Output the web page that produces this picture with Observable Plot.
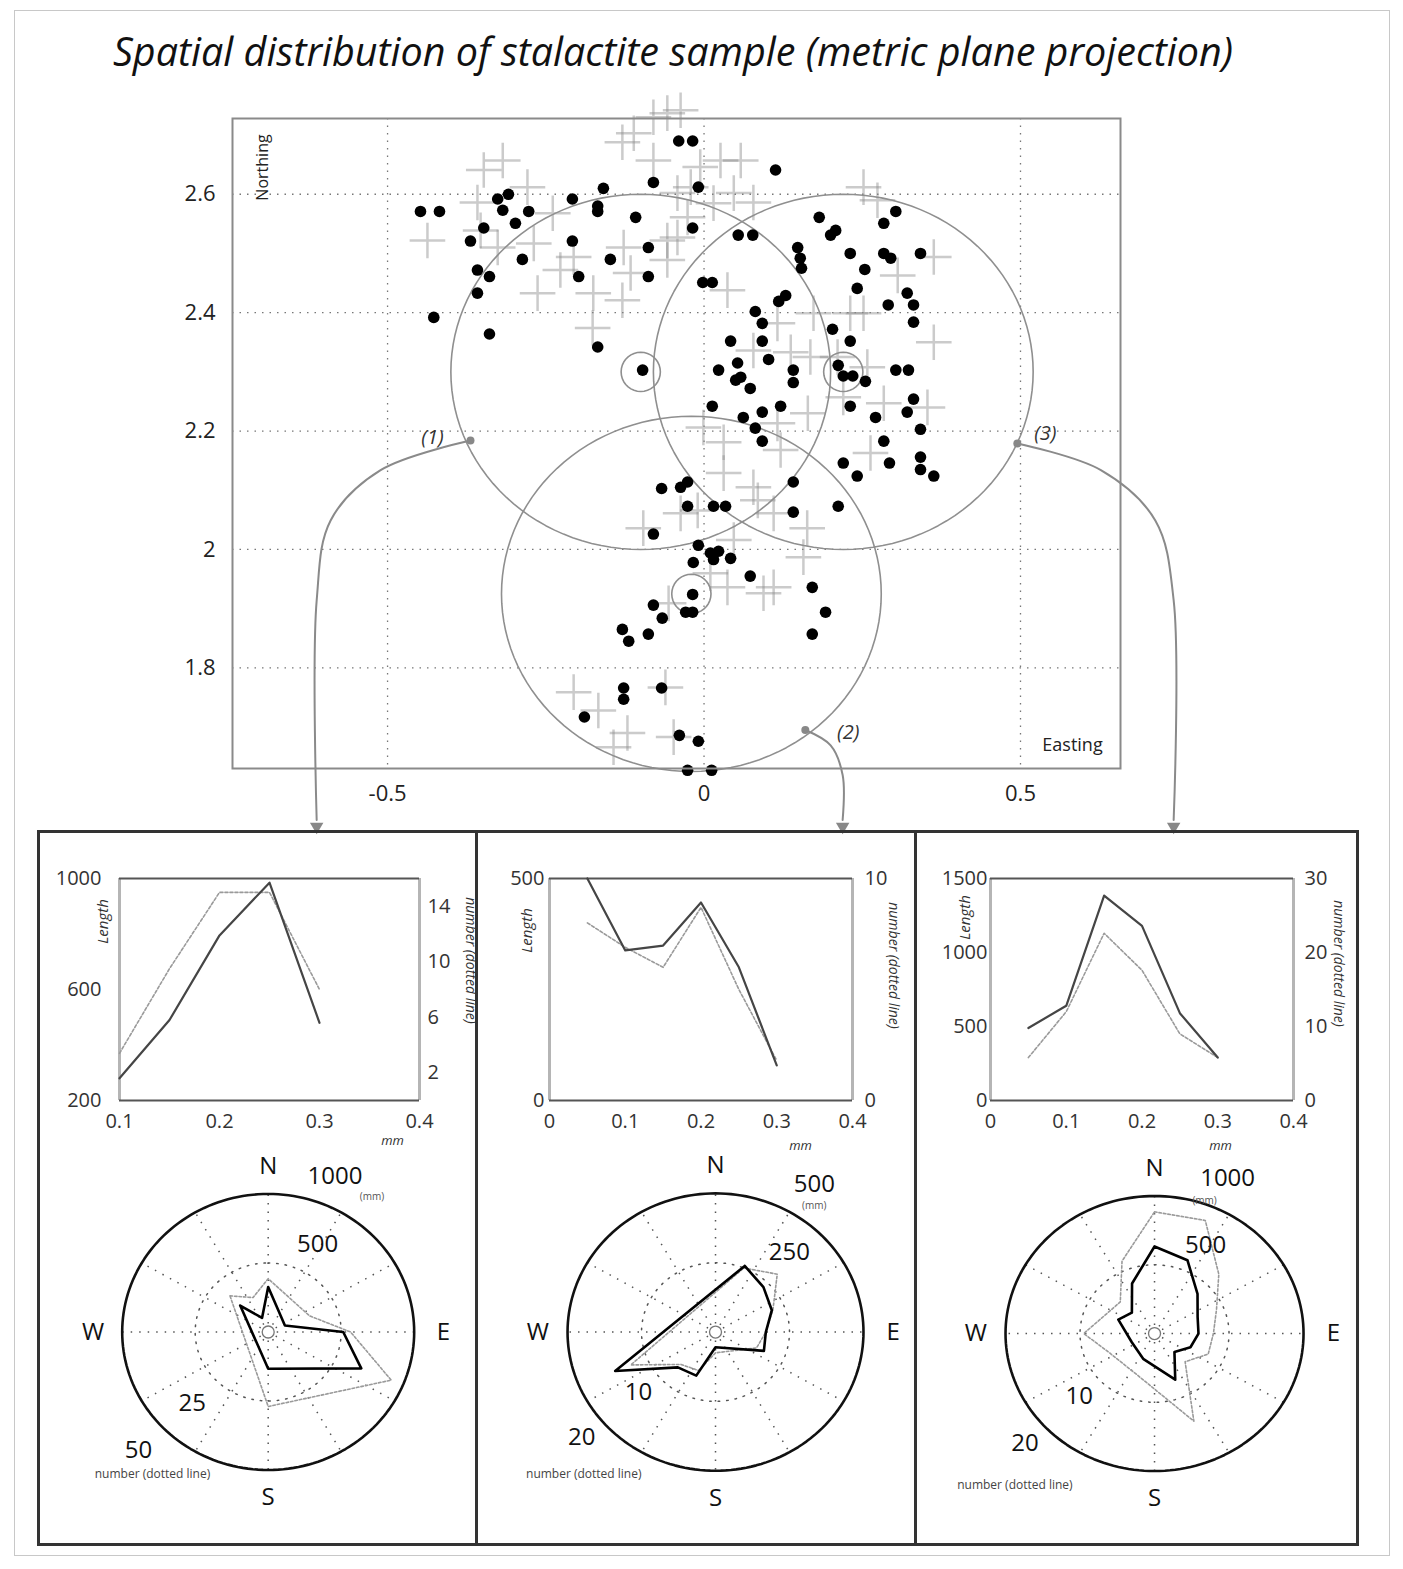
<!DOCTYPE html>
<html>
<head>
<meta charset="utf-8">
<script src="https://cdn.jsdelivr.net/npm/d3@7"></script>
<script src="https://cdn.jsdelivr.net/npm/@observablehq/plot@0.6"></script>
<style>
  body { margin: 0; background: #fff; }
  #page { position: relative; width: 1403px; height: 1569px; overflow: hidden; background: #fff; }
  #page svg { overflow: visible; }
</style>
</head>
<body>
<div id="page"></div>
<script>
// ---------------- DATA ----------------
const titleText = "Spatial distribution of stalactite sample (metric plane projection)";

// stalactite positions (black dots): [Easting, Northing]
const stalactiteDots = [
  [-0.448,2.571],[-0.418,2.571],[-0.326,2.592],[-0.309,2.600],[-0.318,2.573],[-0.277,2.571],[-0.348,2.543],[-0.298,2.551],
  [-0.369,2.521],[-0.358,2.472],[-0.339,2.461],[-0.358,2.433],[-0.427,2.392],[-0.339,2.364],[-0.287,2.490],[-0.208,2.592],
  [-0.168,2.580],[-0.168,2.571],[-0.159,2.610],[-0.208,2.521],[-0.198,2.461],[-0.148,2.490],[-0.108,2.561],[-0.088,2.510],
  [-0.088,2.461],[-0.168,2.342],[-0.097,2.303],[-0.080,2.620],[-0.040,2.690],[-0.018,2.690],[-0.009,2.612],[-0.018,2.543],
  [0.054,2.531],[0.077,2.531],[-0.002,2.451],[0.013,2.451],[0.113,2.641],
  [0.182,2.561],[0.303,2.571],[0.284,2.551],[0.208,2.539],[0.200,2.531],[0.148,2.510],[0.152,2.492],[0.154,2.475],
  [0.231,2.500],[0.284,2.500],[0.295,2.492],[0.342,2.500],[0.254,2.473],[0.242,2.441],[0.129,2.429],[0.118,2.419],
  [0.321,2.433],[0.331,2.413],[0.291,2.413],[0.331,2.384],[0.081,2.402],[0.092,2.382],[0.203,2.372],[0.042,2.352],
  [0.092,2.352],[0.231,2.352],[0.102,2.321],[0.053,2.315],[0.023,2.303],[0.058,2.291],[0.050,2.286],[0.073,2.272],
  [0.141,2.303],[0.141,2.282],[0.212,2.311],[0.220,2.293],[0.235,2.293],[0.255,2.284],[0.303,2.303],[0.323,2.303],
  [0.331,2.254],[0.321,2.232],[0.013,2.242],[0.062,2.223],[0.092,2.232],[0.121,2.242],[0.231,2.242],[0.271,2.223],
  [0.342,2.203],[0.081,2.205],[0.092,2.183],[0.284,2.183],[0.220,2.146],[0.242,2.124],[0.293,2.146],[0.342,2.156],
  [0.342,2.135],[0.363,2.124],[0.141,2.114],
  [-0.067,2.103],[-0.037,2.105],[-0.026,2.114],[0.212,2.073],[0.141,2.063],[-0.026,2.073],[0.015,2.073],[0.034,2.073],
  [-0.080,2.026],[-0.009,2.007],[0.010,1.994],[0.023,1.997],[0.042,1.985],[-0.017,1.978],[0.015,1.983],[0.073,1.955],
  [0.171,1.936],[0.192,1.894],[0.171,1.857],[-0.018,1.924],[-0.080,1.906],[-0.066,1.884],[-0.029,1.894],[-0.018,1.894],
  [-0.129,1.865],[-0.119,1.845],[-0.088,1.857],[-0.127,1.766],[-0.127,1.747],[-0.067,1.766],[-0.189,1.717],[-0.039,1.686],
  [-0.009,1.676],[-0.026,1.627],[0.012,1.627]
];

// second sample (grey crosses): [Easting, Northing]
const crossSample = [
  [-0.080,2.730],[-0.058,2.737],[-0.037,2.742],[-0.111,2.703],[-0.129,2.688],[-0.080,2.657],[-0.006,2.646],[0.026,2.657],
  [0.058,2.657],[-0.021,2.612],[-0.042,2.602],[0.015,2.585],[-0.026,2.561],[-0.042,2.527],[0.047,2.602],[0.078,2.586],
  [-0.318,2.657],[-0.348,2.641],[-0.279,2.612],[-0.358,2.586],[-0.437,2.522],[-0.353,2.539],[-0.239,2.568],[-0.269,2.517],
  [-0.326,2.510],[-0.206,2.494],[-0.127,2.510],[-0.058,2.522],[-0.263,2.433],[-0.175,2.433],[-0.176,2.374],[-0.129,2.421],
  [-0.116,2.467],[-0.058,2.489],[-0.227,2.472],[0.037,2.438],
  [0.252,2.612],[0.274,2.590],[0.363,2.494],[0.306,2.463],[0.363,2.350],[0.231,2.399],[0.252,2.399],[0.173,2.399],
  [0.116,2.382],[0.078,2.336],[0.137,2.333],[0.168,2.325],[0.211,2.325],[0.258,2.308],[0.353,2.240],[0.284,2.247],
  [0.220,2.257],[0.164,2.230],[0.116,2.213],[-0.001,2.206],[0.031,2.181],[0.121,2.168],[0.263,2.163],[0.031,2.129],
  [0.078,2.105],
  [-0.096,2.036],[-0.037,2.061],[-0.010,2.066],[0.085,2.083],[0.110,2.061],[0.163,2.036],[0.157,1.987],[0.047,2.016],
  [0.037,1.936],[0.094,1.926],[0.110,1.936],[0.010,1.960],[-0.056,1.909],[-0.206,1.759],[-0.167,1.728],[-0.121,1.690],
  [-0.143,1.666],[-0.061,1.767],[-0.048,1.683]
];

// sampling circles
const circleLabels   = ["(1)", "(2)", "(3)"];
const circleEasting  = [-0.10, -0.02, 0.22];
const circleNorthing = [2.30, 1.925, 2.30];
const circleRadius   = 0.3;
const centreMarkRadius = 0.031;
// points on each circle where the arrows leave
const markerEasting  = [-0.369, 0.160, 0.495];
const markerNorthing = [2.184, 1.695, 2.179];
// arrow paths (Easting / Northing), one per circle
const arrowEasting  = [[-0.369,-0.511,-0.590,-0.612,-0.612], [0.160,0.200,0.219,0.219], [0.495,0.627,0.713,0.742,0.742]];
const arrowNorthing = [[2.184,2.134,2.049,1.914,1.543],      [1.695,1.669,1.619,1.543], [2.179,2.134,2.049,1.914,1.543]];
const arrowTipNorthing = 1.532;

const xTicksMain = [-0.5, 0, 0.5];
const yTicksMain = [1.8, 2, 2.2, 2.4, 2.6];

// size distributions (mm) : Length (solid) and number (dotted)
const size1 = [0.1, 0.15, 0.2, 0.25, 0.3];
const length1 = [280, 490, 795, 985, 480];
const number1 = [3.4, 9.5, 15, 15, 8];
const size2 = [0.05, 0.1, 0.15, 0.2, 0.25, 0.3];
const length2 = [500, 338, 349, 446, 300, 79];
const number2 = [8, 6.9, 6, 8.7, 5, 1.8];
const size3 = [0.05, 0.1, 0.15, 0.2, 0.25, 0.3];
const length3 = [490, 640, 1385, 1180, 590, 290];
const number3 = [5.8, 12, 22.6, 17.6, 9, 5.8];

// orientation roses (azimuth in degrees from N)
const rose1LenAz = [315, 337.5, 0, 67.5, 90, 112.5, 180];
const rose1Len   = [271, 110, 326, 124, 514, 690, 266];
const rose1NumAz = [315, 337.5, 0, 67.5, 90, 112.5, 180];
const rose1Num   = [18.5, 13.5, 19.3, 15.3, 28.2, 45.6, 27];
const rose2LenAz = [22.5, 45, 67.5, 90, 112.5, 180, 202.5, 225, 247.5];
const rose2Len   = [258, 229, 206, 170, 177, 55, 170, 180, 367];
const rose2NumAz = [22.5, 45, 67.5, 90, 112.5, 180, 202.5, 225, 247.5];
const rose2Num   = [10, 11.8, 8.4, 6.8, 6, 3, 6, 6.6, 12.4];
const rose3LenAz = [0, 22.5, 45, 67.5, 90, 112.5, 135, 157.5, 202.5, 247.5, 292.5, 315, 337.5];
const rose3Len   = [633, 577, 408, 313, 295, 261, 189, 363, 199, 165, 263, 215, 394];
const rose3NumAz = [0, 22.5, 45, 67.5, 90, 112.5, 135, 157.5, 202.5, 247.5, 270, 315, 337.5];
const rose3Num   = [17.7, 17.8, 12.2, 9, 7.9, 7.8, 5.8, 13.8, 6.4, 6.8, 9.5, 6.5, 11.4];
const compass = ["N", "E", "S", "W"];
const compassAz = [0, 90, 180, 270];

// ---------------- LAYOUT HELPERS ----------------
const FONT = "'Open Sans', 'Liberation Sans', sans-serif";
const page = document.getElementById("page");
function put(node, left, top) {
  node.style.position = "absolute";
  node.style.left = left + "px";
  node.style.top = top + "px";
  page.appendChild(node);
  return node;
}
function box(left, top, w, h, css) {
  const d = document.createElement("div");
  d.style.cssText = `position:absolute;left:${left}px;top:${top}px;width:${w}px;height:${h}px;box-sizing:border-box;${css}`;
  page.appendChild(d);
  return d;
}
const mid = {textAnchor: "middle", lineAnchor: "middle"};

// outer frame + title
box(14, 10, 1376, 1546, "border:1px solid #c8c8c8;");
const title = document.createElement("div");
title.textContent = titleText;
title.style.cssText = `width:1346px;text-align:center;font-family:${FONT};font-style:italic;font-size:39.5px;line-height:48px;color:#111;white-space:nowrap;`;
put(title, 0, 27);

// ---------------- MAIN SCATTER ----------------
const circlePts = [];
circleEasting.forEach((cx, i) => {
  const cy = circleNorthing[i];
  d3.range(0, 361, 3).forEach(a => circlePts.push({id: "c" + i, x: cx + circleRadius * Math.cos(a * Math.PI / 180), y: cy + circleRadius * Math.sin(a * Math.PI / 180)}));
  d3.range(0, 361, 10).forEach(a => circlePts.push({id: "m" + i, x: cx + centreMarkRadius * Math.cos(a * Math.PI / 180), y: cy + centreMarkRadius * 1.07 * Math.sin(a * Math.PI / 180)}));
});
const arrowPts = [];
arrowEasting.forEach((xs, i) => xs.forEach((x, j) => arrowPts.push({id: i, x, y: arrowNorthing[i][j]})));
const arrowTips = arrowEasting.map(xs => ({x: xs[xs.length - 1], y: arrowTipNorthing}));
const markers = markerEasting.map((x, i) => ({x, y: markerNorthing[i], label: circleLabels[i]}));
const labelOffsets = [[-38, -3], [43, 3], [28, -10]];

const scatter = Plot.plot({
  width: 1403, height: 750,
  marginLeft: 232, marginRight: 283, marginTop: 28, marginBottom: 72,
  style: {background: "transparent", fontFamily: FONT, fontSize: "22px", color: "#222", overflow: "visible"},
  x: {domain: [-0.745, 0.658], label: null},
  y: {domain: [1.630, 2.728], label: null},
  marks: [
    Plot.gridX(xTicksMain, {stroke: "#777", strokeOpacity: 1, strokeDasharray: "1.5,6", strokeWidth: 1.3}),
    Plot.gridY(yTicksMain, {stroke: "#777", strokeOpacity: 1, strokeDasharray: "1.5,6", strokeWidth: 1.3}),
    Plot.dot(crossSample, {x: d => d[0], y: d => d[1], symbol: "plus", r: 11.5, stroke: "#8c8c8c", strokeOpacity: 0.45, strokeWidth: 2.5}),
    Plot.line(circlePts, {x: "x", y: "y", z: "id", stroke: "#8f8f8f", strokeWidth: 1.6}),
    Plot.dot(stalactiteDots, {x: d => d[0], y: d => d[1], r: 5.8, fill: "#000"}),
    Plot.frame({stroke: "#8a8a8a", strokeWidth: 2}),
    Plot.axisX(xTicksMain, {tickSize: 0, tickPadding: 17, tickFormat: d => String(d), label: null, fontSize: 22}),
    Plot.axisY(yTicksMain, {tickSize: 0, tickPadding: 17, tickFormat: d => String(d), label: null, fontSize: 22}),
    Plot.line(arrowPts, {x: "x", y: "y", z: "id", curve: "catmull-rom", stroke: "#8a8a8a", strokeWidth: 2}),
    Plot.dot(arrowTips, {x: "x", y: "y", symbol: "triangle", rotate: 180, r: 5, fill: "#888", stroke: "none"}),
    Plot.dot(markers, {x: "x", y: "y", r: 4, fill: "#888", stroke: "none"}),
    ...markers.map((m, i) => Plot.text([m], {x: "x", y: "y", text: "label", dx: labelOffsets[i][0], dy: labelOffsets[i][1], fontStyle: "italic", fontSize: 20, fill: "#333", ...mid})),
    Plot.text(["Northing"], {frameAnchor: "top-left", text: d => d, rotate: -90, dx: 30, dy: 49, fontSize: 16, fill: "#222", ...mid}),
    Plot.text(["Easting"], {frameAnchor: "bottom-right", text: d => d, dx: -48, dy: -23, fontSize: 18, fill: "#222", ...mid})
  ]
});
put(scatter, 0, 90);

// ---------------- PANELS ----------------
box(37, 830, 441, 716, "border:3px solid #333;");
box(475, 830, 442, 716, "border:3px solid #333;");
box(914, 830, 445, 716, "border:3px solid #333;");

function lineChart(c) {
  const k = (c.lenDomain[1] - c.lenDomain[0]) / c.numMax;
  const toLen = n => c.lenDomain[0] + n * k;
  const solid = c.sizes.map((s, i) => ({s, v: c.len[i]}));
  const dotted = c.sizes.map((s, i) => ({s, v: toLen(c.num[i])}));
  return Plot.plot({
    width: c.w, height: 290,
    marginLeft: c.mL, marginRight: c.mR, marginTop: 18, marginBottom: 50,
    style: {background: "transparent", fontFamily: FONT, fontSize: "20px", color: "#333", overflow: "visible"},
    x: {domain: c.xDomain, label: null},
    y: {domain: c.lenDomain, label: null},
    marks: [
      Plot.ruleX(c.xDomain, {stroke: "#b5b5b5", strokeWidth: 3}),
      Plot.ruleY(c.lenDomain, {stroke: "#555", strokeWidth: 2}),
      Plot.line(dotted, {x: "s", y: "v", stroke: "#9a9a9a", strokeWidth: 1.6, strokeDasharray: "3,2"}),
      Plot.line(solid, {x: "s", y: "v", stroke: "#454545", strokeWidth: 2.2}),
      Plot.axisX(c.xTicks, {tickSize: 0, tickPadding: 13, tickFormat: d => String(d), label: null, fontSize: 20}),
      Plot.axisY(c.lenTicks, {anchor: "left", tickSize: 0, tickPadding: c.padL, tickFormat: d => String(d), label: null, fontSize: 20}),
      Plot.axisY(c.numTicks.map(toLen), {anchor: "right", tickSize: 0, tickPadding: c.padR, tickFormat: v => String(Math.round((v - c.lenDomain[0]) / k)), label: null, fontSize: 20}),
      Plot.text(["Length"], {frameAnchor: "top-left", text: d => d, rotate: -90, dx: c.lenLab[0], dy: c.lenLab[1], fontStyle: "italic", fontSize: 15, fill: "#333", ...mid}),
      Plot.text(["number (dotted line)"], {frameAnchor: "top-right", text: d => d, rotate: 90, dx: c.numLab[0], dy: c.numLab[1], fontStyle: "italic", fontSize: 14, fill: "#333", ...mid}),
      Plot.text(["mm"], {frameAnchor: "bottom-right", text: d => d, dx: c.mmLab[0], dy: c.mmLab[1], fontStyle: "italic", fontSize: 13, fill: "#333", ...mid})
    ]
  });
}

put(lineChart({w: 432, mL: 76, mR: 56, sizes: size1, len: length1, num: number1, lenDomain: [200, 1000], numMax: 16,
  xDomain: [0.1, 0.4], xTicks: [0.1, 0.2, 0.3, 0.4], lenTicks: [200, 600, 1000], numTicks: [2, 6, 10, 14],
  padL: 18, padR: 8, lenLab: [-16, 43], numLab: [51, 82], mmLab: [-27, 40]}), 43, 860);
put(lineChart({w: 434, mL: 70, mR: 61, sizes: size2, len: length2, num: number2, lenDomain: [0, 500], numMax: 10,
  xDomain: [0, 0.4], xTicks: [0, 0.1, 0.2, 0.3, 0.4], lenTicks: [0, 500], numTicks: [0, 10],
  padL: 5, padR: 12, lenLab: [-22, 52], numLab: [41, 87], mmLab: [-52, 45]}), 479, 860);
put(lineChart({w: 436, mL: 72, mR: 61, sizes: size3, len: length3, num: number3, lenDomain: [0, 1500], numMax: 30,
  xDomain: [0, 0.4], xTicks: [0, 0.1, 0.2, 0.3, 0.4], lenTicks: [0, 500, 1000, 1500], numTicks: [0, 10, 20, 30],
  padL: 3, padR: 11, lenLab: [-25, 39], numLab: [45, 85], mmLab: [-73, 45]}), 918, 860);

function rosePlot(c) {
  const rad = a => a * Math.PI / 180;
  const pt = (az, f) => ({x: f * Math.sin(rad(az)), y: f * Math.cos(rad(az))});
  const closed = arr => arr.concat([arr[0]]);
  const lenPoly = closed(c.lenAz.map((a, i) => pt(a, c.len[i] / c.lenMax)));
  const numPoly = closed(c.numAz.map((a, i) => pt(a, c.num[i] / c.numMax)));
  const ring = f => d3.range(0, 361, 2).map(a => pt(a, f));
  const spokes = d3.range(0, 360, 30).map(a => pt(a, 1));
  const compassLabels = compass.map((t, i) => ({t, ...pt(compassAz[i], 1.2)}));
  const lenLabels = c.lenTicks.map((v, i) => ({t: String(v), ...pt(c.lenLabAz[i], v / c.lenMax + c.lenLabOff)}));
  const numLabels = c.numTicks.map((v, i) => ({t: String(v), ...pt(c.numLabAz[i], v / c.numMax + c.numLabOff)}));
  const outerLen = lenLabels[lenLabels.length - 1];
  const outerNum = numLabels[numLabels.length - 1];
  return Plot.plot({
    width: c.w, height: 390, margin: 0,
    style: {background: "transparent", fontFamily: FONT, fontSize: "24px", color: "#111", overflow: "visible"},
    x: {domain: c.xd, axis: null},
    y: {domain: c.yd, axis: null},
    marks: [
      Plot.link(spokes, {x1: () => 0, y1: () => 0, x2: "x", y2: "y", stroke: "#555", strokeWidth: 1.5, strokeDasharray: "1.5,7"}),
      Plot.line(ring(0.5), {x: "x", y: "y", stroke: "#555", strokeWidth: 1.5, strokeDasharray: "1.5,7"}),
      Plot.line(ring(1), {x: "x", y: "y", stroke: "#111", strokeWidth: 2.6}),
      Plot.dot([{x: 0, y: 0}], {x: "x", y: "y", r: 6, stroke: "#777", strokeWidth: 1.3, fill: "white"}),
      Plot.line(numPoly, {x: "x", y: "y", stroke: "#9a9a9a", strokeWidth: 1.6, strokeDasharray: "2.5,2"}),
      Plot.line(lenPoly, {x: "x", y: "y", stroke: "#000", strokeWidth: 2.6}),
      Plot.text(compassLabels, {x: "x", y: "y", text: "t", fontSize: 24, fill: "#111", ...mid}),
      Plot.text(lenLabels, {x: "x", y: "y", text: "t", fontSize: 24, fill: "#111", ...mid}),
      Plot.text(numLabels, {x: "x", y: "y", text: "t", fontSize: 24, fill: "#111", ...mid}),
      Plot.text([outerLen], {x: "x", y: "y", text: () => "(mm)", dx: c.mmOff[0], dy: c.mmOff[1], fontSize: 10, fill: "#555", ...mid}),
      Plot.text([outerNum], {x: "x", y: "y", text: () => "number (dotted line)", dx: c.nOff[0], dy: c.nOff[1], fontSize: 12, fill: "#444", ...mid})
    ]
  });
}

put(rosePlot({w: 432, xd: [-1.539, 1.420], yd: [-1.511, 1.315],
  lenAz: rose1LenAz, len: rose1Len, numAz: rose1NumAz, num: rose1Num, lenMax: 1000, numMax: 50,
  lenTicks: [500, 1000], lenLabAz: [28, 22], lenLabOff: 0.22, numTicks: [25, 50], numLabAz: [225, 226], numLabOff: 0.235,
  mmOff: [37, 21], nOff: [14, 24]}), 43, 1150);
put(rosePlot({w: 434, xd: [-1.595, 1.338], yd: [-1.503, 1.309],
  lenAz: rose2LenAz, len: rose2Len, numAz: rose2NumAz, num: rose2Num, lenMax: 500, numMax: 20,
  lenTicks: [250, 500], lenLabAz: [41, 32], lenLabOff: 0.26, numTicks: [10, 20], numLabAz: [230, 230], numLabOff: 0.18,
  mmOff: [0, 22], nOff: [2, 37]}), 479, 1150);
put(rosePlot({w: 436, xd: [-1.584, 1.342], yd: [-1.505, 1.331],
  lenAz: rose3LenAz, len: rose3Len, numAz: rose3NumAz, num: rose3Num, lenMax: 1000, numMax: 20,
  lenTicks: [500, 1000], lenLabAz: [28, 23.5], lenLabOff: 0.23, numTicks: [10, 20], numLabAz: [228, 227.5], numLabOff: 0.18,
  mmOff: [-23, 22], nOff: [-10, 42]}), 918, 1150);
</script>
</body>
</html>
